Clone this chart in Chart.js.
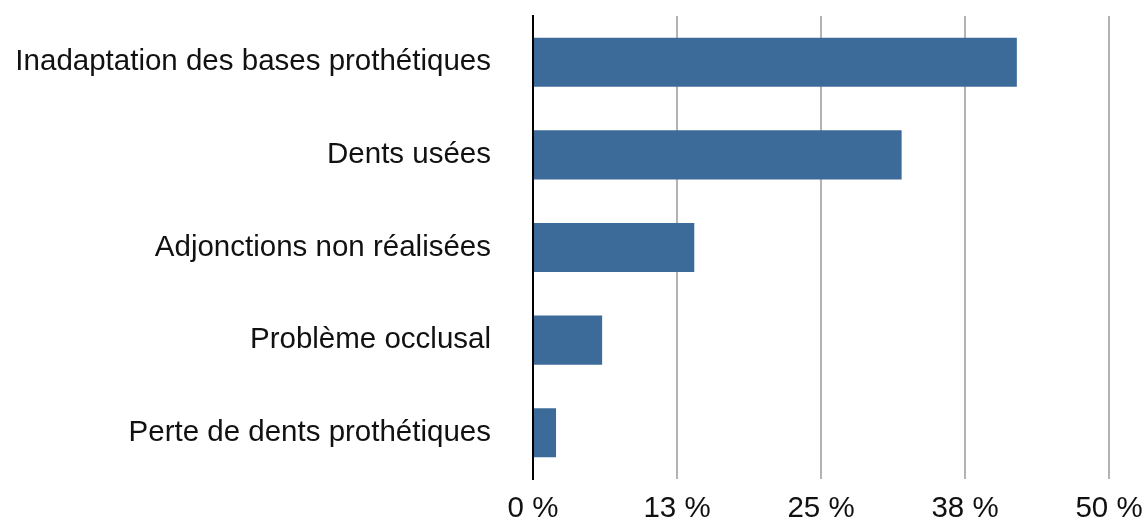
<!DOCTYPE html>
<html>
<head>
<meta charset="utf-8">
<script src="https://cdn.jsdelivr.net/npm/chart.js@4/dist/chart.umd.min.js"></script>
<style>
  html, body { margin: 0; padding: 0; background: #ffffff; }
  #wrap { width: 1144px; height: 521px; position: relative; }
</style>
</head>
<body>
<div id="wrap"><canvas id="c" width="1144" height="521"></canvas></div>
<script>
const categories = [
  "Inadaptation des bases prothétiques",
  "Dents usées",
  "Adjonctions non réalisées",
  "Problème occlusal",
  "Perte de dents prothétiques"
];
const values = [42, 32, 14, 6, 2];
const tickValues = [0, 12.5, 25, 37.5, 50];
const tickLabels = ["0 %", "13 %", "25 %", "38 %", "50 %"];

const FONT = "'Liberation Sans', Arial, Helvetica, sans-serif";

new Chart(document.getElementById('c'), {
  type: 'bar',
  data: {
    labels: categories,
    datasets: [{
      data: values,
      backgroundColor: '#3c6b9a',
      borderWidth: 0,
      barPercentage: 0.53,
      categoryPercentage: 1.0
    }]
  },
  options: {
    indexAxis: 'y',
    responsive: false,
    animation: false,
    devicePixelRatio: 1,
    layout: { padding: { top: 16, left: 0, right: 35, bottom: 0 } },
    plugins: { legend: { display: false }, tooltip: { enabled: false } },
    scales: {
      x: {
        min: 0,
        max: 50,
        afterBuildTicks: (scale) => { scale.ticks = tickValues.map(v => ({ value: v })); },
        afterFit: (scale) => {
          scale.height = 42;
          scale.paddingLeft = 0; scale.paddingRight = 0;
          scale.paddingTop = 0; scale.paddingBottom = 0;
        },
        ticks: {
          callback: (v, i) => tickLabels[i],
          font: { family: FONT, size: 29.5 },
          color: '#111111',
          padding: 12,
          maxRotation: 0,
          autoSkip: false
        },
        grid: {
          color: '#b3b3b3',
          lineWidth: 2,
          drawTicks: false
        },
        border: { display: false }
      },
      y: {
        afterFit: (scale) => {
          scale.width = 533;
          scale.paddingLeft = 0; scale.paddingRight = 0;
          scale.paddingTop = 0; scale.paddingBottom = 0;
        },
        ticks: {
          font: { family: FONT, size: 29.5 },
          color: '#111111',
          padding: 42
        },
        grid: { display: false, drawTicks: false },
        border: { display: true, color: '#000000', width: 2 }
      }
    }
  }
});
</script>
</body>
</html>
